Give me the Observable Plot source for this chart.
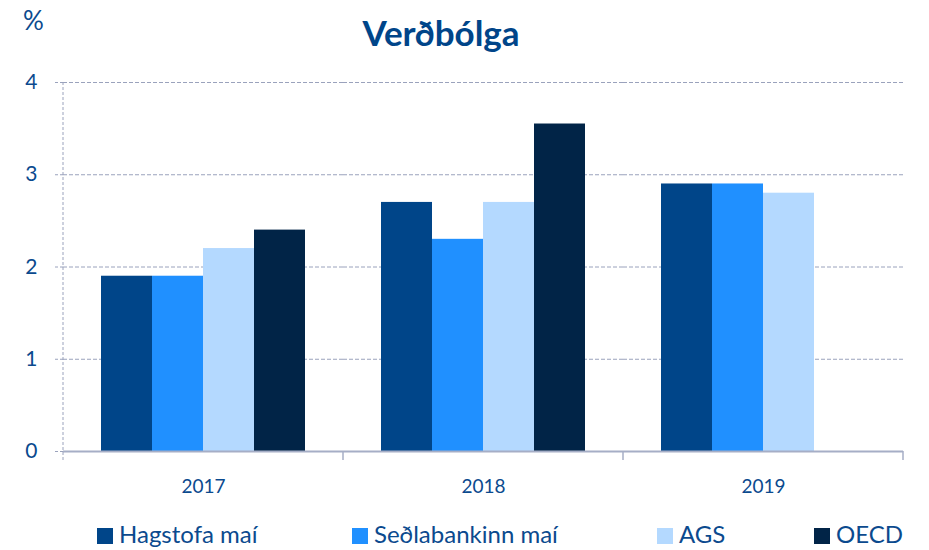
<!DOCTYPE html>
<html>
<head>
<meta charset="utf-8">
<script src="https://cdn.jsdelivr.net/npm/d3@7"></script>
<script src="https://cdn.jsdelivr.net/npm/@observablehq/plot@0.6"></script>
<style>
  html, body { margin: 0; padding: 0; background: #fff; }
  #wrap { position: relative; width: 929px; height: 550px; font-family: Lato, "Open Sans", sans-serif; color: #0b4a8e; overflow: hidden; }
  #title { position: absolute; left: 0; width: 882px; top: 11px; text-align: center; font-size: 35px; font-weight: 700; color: #004589; }
  #unit { position: absolute; left: 23px; top: 4px; font-size: 26px; color: #0b4a8e; }
  #chart { position: absolute; left: 0; top: 0; }
  .leg { position: absolute; top: 519px; font-size: 24px; color: #0b4a8e; white-space: nowrap; line-height: 30px; }
  .leg span.sw { display: inline-block; width: 16px; height: 16px; margin-right: 6px; vertical-align: -1px; }
</style>
</head>
<body>
<div id="wrap">
  <div id="chart"></div>
  <div id="unit">%</div>
  <div id="title">Verðbólga</div>
  <div id="legend"></div>
</div>
<script>
const years = ["2017", "2018", "2019"];
const series = ["Hagstofa maí", "Seðlabankinn maí", "AGS", "OECD"];
const hagstofa = [1.9, 2.7, 2.9];
const sedlabankinn = [1.9, 2.3, 2.9];
const ags = [2.2, 2.7, 2.8];
const oecd = [2.4, 3.55, null];
const colors = ["#004589", "#2090ff", "#b4d9ff", "#012447"];
const yTicks = [0, 1, 2, 3, 4];
const legendLeft = [97, 352, 657, 814];

const seriesValues = [hagstofa, sedlabankinn, ags, oecd];
const data = years.flatMap((year, i) =>
  series.map((s, j) => ({year, series: s, value: seriesValues[j][i]}))
).filter(d => d.value != null);

const gridColor = "#9aa2bc";
const font = "Lato, 'Open Sans', sans-serif";

const chart = Plot.plot({
  width: 929,
  height: 500,
  marginLeft: 63,
  marginRight: 26,
  marginTop: 82,
  marginBottom: 49,
  style: {fontFamily: font, color: "#0b4a8e", background: "transparent"},
  fx: {domain: years, paddingInner: 0, paddingOuter: 0, label: null},
  x: {domain: series, paddingInner: 0, paddingOuter: 0.745, axis: null},
  y: {domain: [0, 4], axis: null},
  color: {domain: series, range: colors},
  marks: [
    Plot.ruleY(yTicks.filter(d => d > 0), {stroke: gridColor, strokeDasharray: "4,2", strokeWidth: 1}),
    Plot.barY(data, {fx: "year", x: "series", y: "value", fill: "series", inset: 0}),
    Plot.ruleY([0], {stroke: "#a6aec6", strokeWidth: 2}),
    Plot.axisY({ticks: yTicks, tickFormat: d3.format("d"), tickSize: 8, tickPadding: 18, fontSize: 21, fontFamily: font, stroke: gridColor, strokeDasharray: "3,2", fill: "#0b4a8e", label: null}),
    Plot.axisFx({anchor: "bottom", tickSize: 0, tickPadding: 28, fontSize: 19, fontFamily: font, fill: "#0b4a8e", label: null})
  ]
});

document.getElementById("chart").appendChild(chart);

// vertical dashed axis line and category separators, placed via the plot's own scales
const fx = chart.scale("fx");
const ys = chart.scale("y");
const svg = d3.select(chart);
const y0 = ys.apply(0), yTop = ys.apply(4);
const left = fx.apply(years[0]);
svg.append("line")
  .attr("x1", left).attr("x2", left)
  .attr("y1", yTop).attr("y2", y0 + 10)
  .attr("stroke", gridColor).attr("stroke-dasharray", "3,2");
const bounds = years.map(y => fx.apply(y)).concat([fx.apply(years[years.length - 1]) + fx.bandwidth]);
bounds.slice(1).forEach(bx => {
  svg.append("line")
    .attr("x1", bx).attr("x2", bx)
    .attr("y1", y0).attr("y2", y0 + 9)
    .attr("stroke", "#a6aec6").attr("stroke-width", 1.5);
});

// legend
const legend = document.getElementById("legend");
series.forEach((s, i) => {
  const div = document.createElement("div");
  div.className = "leg";
  div.style.left = legendLeft[i] + "px";
  div.innerHTML = `<span class="sw" style="background:${colors[i]}"></span>${s}`;
  legend.appendChild(div);
});
</script>
</body>
</html>
